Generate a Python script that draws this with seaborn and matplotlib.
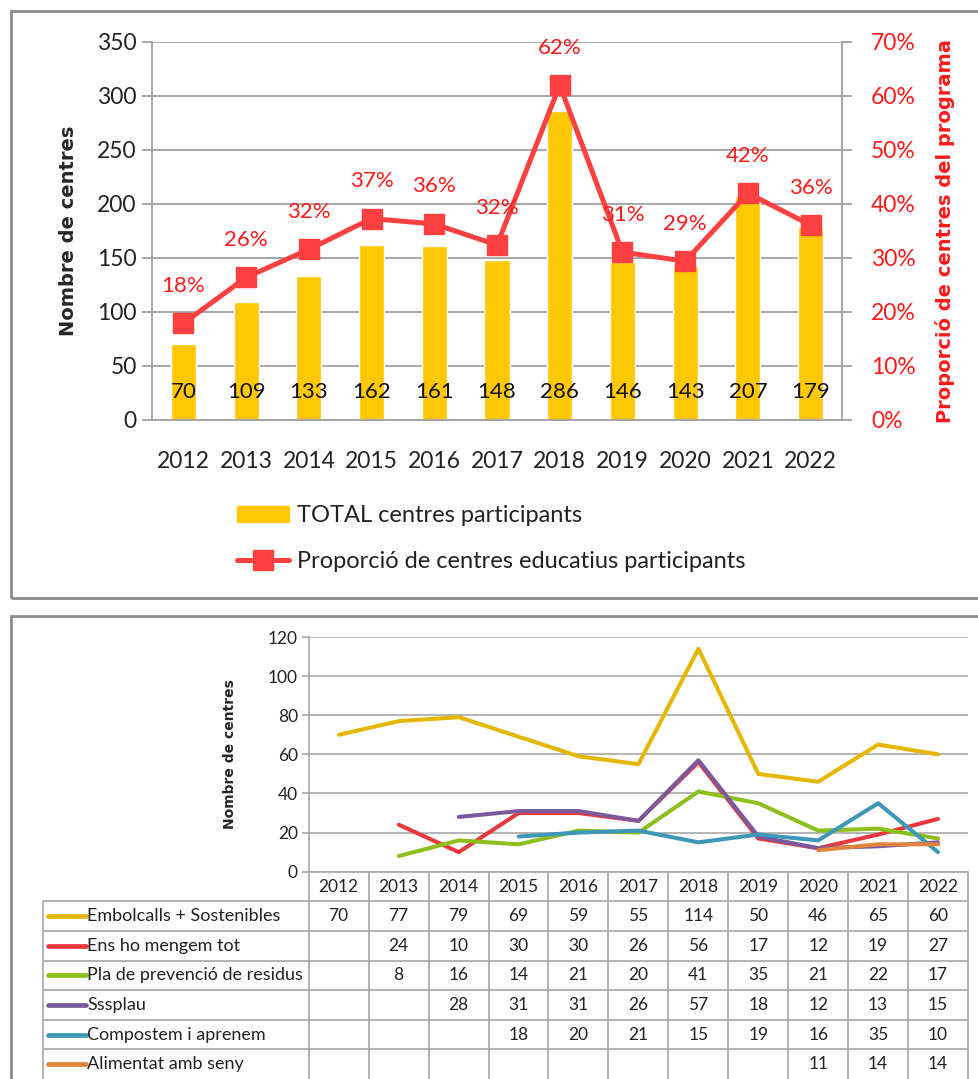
import numpy as np
import pandas as pd
import matplotlib
matplotlib.use("Agg")
import matplotlib.pyplot as plt
import seaborn as sns
from matplotlib.patches import Rectangle
from matplotlib.lines import Line2D

# ---- data ----
years = ["2012", "2013", "2014", "2015", "2016", "2017", "2018", "2019", "2020", "2021", "2022"]
total_centres = [70, 109, 133, 162, 161, 148, 286, 146, 143, 207, 179]
proportion_pct = [17.9, 26.4, 31.6, 37.3, 36.3, 32.4, 62.0, 31.1, 29.4, 42.0, 36.1]

programmes = ["Embolcalls + Sostenibles", "Ens ho mengem tot", "Pla de prevenció de residus",
              "Sssplau", "Compostem i aprenem", "Alimentat amb seny"]
embolcalls = [70, 77, 79, 69, 59, 55, 114, 50, 46, 65, 60]
ens_ho_mengem = [None, 24, 10, 30, 30, 26, 56, 17, 12, 19, 27]
pla_prevencio = [None, 8, 16, 14, 21, 20, 41, 35, 21, 22, 17]
sssplau = [None, None, 28, 31, 31, 26, 57, 18, 12, 13, 15]
compostem = [None, None, None, 18, 20, 21, 15, 19, 16, 35, 10]
alimentat = [None, None, None, None, None, None, None, None, 11, 14, 14]
prog_colors = ["#E5B700", "#E8383B", "#8CBE1C", "#7A5A9C", "#3C98B6", "#E4843C"]

sns.set_style("white")
plt.rcParams["font.family"] = ["Lato", "DejaVu Sans"]

W, H = 979, 1079
fig = plt.figure(figsize=(W / 100, H / 100), dpi=100)


def box(x0, y0, x1, y1):
    # rectangle given in pixel coords (top-left origin)
    return [x0 / W, 1 - y1 / H, (x1 - x0) / W, (y1 - y0) / H]


grid_c = "#A0A0A0"

# frames around the two panels
fig.patches.append(Rectangle((11 / W, 1 - 598 / H), 1.0, (598 - 11) / H,
                             transform=fig.transFigure, fill=False,
                             edgecolor="#8C8C8C", lw=2))
fig.patches.append(Rectangle((11 / W, -0.1), 1.0, 0.1 + (1079 - 616) / H,
                             transform=fig.transFigure, fill=False,
                             edgecolor="#8C8C8C", lw=2))

# ---- top chart: bars + proportion line ----
ax1 = fig.add_axes(box(152, 42, 842, 420))
x = np.arange(len(years))
df_top = pd.DataFrame({"year": years, "total": total_centres})
sns.barplot(data=df_top, x="year", y="total", color="#FFC800", width=0.4,
            saturation=1, ax=ax1)
ax1.set_xlim(-0.5, 10.5)
ax1.set_ylim(0, 350)
ax1.set_yticks(range(0, 351, 50))
ax1.yaxis.grid(True, color=grid_c, lw=1.3)
ax1.set_axisbelow(True)
for s in ["top", "right"]:
    ax1.spines[s].set_visible(False)
for s in ["left", "bottom"]:
    ax1.spines[s].set_color(grid_c)
    ax1.spines[s].set_linewidth(1.3)
ax1.set_xticks(np.arange(-0.5, 11, 1), minor=False)
ax1.set_xticklabels([])
ax1.set_xticks(x, minor=True)
ax1.set_xticklabels(years, minor=True, fontsize=16.5, color="#222222")
ax1.tick_params(axis="x", which="major", length=7, color=grid_c, width=1.3, direction="out")
ax1.tick_params(axis="x", which="minor", length=0, pad=22)
ax1.tick_params(axis="y", length=7, color=grid_c, width=1.3, labelsize=16.5,
                labelcolor="#222222", pad=4, left=True)
ax1.set_xlabel("")
ax1.set_ylabel("Nombre de centres", fontsize=14, fontweight="bold",
               family="DejaVu Sans", labelpad=14)
for xi, v in zip(x, total_centres):
    ax1.text(xi, 26, str(v), ha="center", va="center", fontsize=16, color="#111111")

ax2 = ax1.twinx()
ax2.plot(x, proportion_pct, color="#FF4040", lw=3.6, marker="s", markersize=14)
ax2.set_ylim(0, 70)
ax2.set_yticks(range(0, 71, 10))
ax2.set_yticklabels([f"{t}%" for t in range(0, 71, 10)])
ax2.tick_params(axis="y", length=7, color=grid_c, width=1.3, labelsize=16.5,
                labelcolor="#FF1A1A", pad=14, right=True)
for s in ["top", "left", "bottom"]:
    ax2.spines[s].set_visible(False)
ax2.spines["right"].set_color(grid_c)
ax2.spines["right"].set_linewidth(1.3)
ax2.set_ylabel("Proporció de centres del programa", fontsize=14, fontweight="bold",
               family="DejaVu Sans", color="#FF1A1A", labelpad=14)
for xi, p in zip(x, proportion_pct):
    ax2.annotate(f"{p:.0f}%", (xi, p), xytext=(0, 27), textcoords="offset points",
                 ha="center", va="center", fontsize=16, color="#FF1A1A")

handles = [Rectangle((0, 0), 1, 1, color="#FFC800"),
           Line2D([], [], color="#FF4040", lw=3.6, marker="s", markersize=14)]
fig.legend(handles, ["TOTAL centres participants",
                     "Proporció de centres educatius participants"],
           loc="upper left", bbox_to_anchor=(216 / W, 1 - 484 / H), frameon=False,
           fontsize=17, handlelength=2.2, handleheight=0.7, labelspacing=1.05,
           handletextpad=0.35, labelcolor="#222222")

# ---- bottom chart: programme lines ----
ax3 = fig.add_axes(box(309, 637, 968, 871.7))
series = [embolcalls, ens_ho_mengem, pla_prevencio, sssplau, compostem, alimentat]
long = pd.DataFrame({
    "x": np.tile(x, len(programmes)),
    "value": [v for s in series for v in s],
    "programme": np.repeat(programmes, len(years)),
}).dropna()
sns.lineplot(data=long, x="x", y="value", hue="programme", hue_order=programmes,
             palette=prog_colors, lw=2.9, legend=False, ax=ax3)
ax3.set_xlim(-0.5, 10.5)
ax3.set_ylim(0, 120)
ax3.set_yticks(range(0, 121, 20))
ax3.set_xticks([])
ax3.yaxis.grid(True, color=grid_c, lw=1.1)
ax3.set_axisbelow(True)
for s in ["top", "right", "bottom"]:
    ax3.spines[s].set_visible(False)
ax3.spines["left"].set_color(grid_c)
ax3.spines["left"].set_linewidth(1.1)
ax3.tick_params(axis="y", length=5, color=grid_c, width=1.1, labelsize=12.5,
                labelcolor="#222222", pad=3, left=True)
ax3.set_xlabel("")
ax3.set_ylabel("Nombre de centres", fontsize=10, fontweight="bold",
               family="DejaVu Sans", labelpad=22)

# ---- data table under the bottom chart ----
tab = fig.add_axes(box(43, 871.7, 968, 1079))
label_w = (309 - 43) / 60.0
left = -0.5 - label_w
tab.set_xlim(left, 10.5)
tab.set_ylim(6.0, -1.0)
tab.axis("off")
tcol = "#A6A6A6"
for k in range(12):
    tab.plot([k - 0.5, k - 0.5], [-1, 6.2], color=tcol, lw=1.2, clip_on=False)
tab.plot([left, left], [0, 6.2], color=tcol, lw=1.2, clip_on=False)
tab.plot([-0.5, 10.5], [-1, -1], color=tcol, lw=1.2, clip_on=False)
for r in range(6):
    tab.plot([left, 10.5], [r, r], color=tcol, lw=1.2)
for xi, yr in zip(x, years):
    tab.text(xi, -0.5, yr, ha="center", va="center", fontsize=12.5, color="#222222")
for r, (name, s, c) in enumerate(zip(programmes, series, prog_colors)):
    tab.plot([left + 0.08, left + 0.72], [r + 0.5, r + 0.5], color=c, lw=3.4,
             solid_capstyle="round")
    tab.text(left + 0.74, r + 0.5, name, ha="left", va="center", fontsize=13,
             color="#222222")
    for xi, v in zip(x, s):
        if v is not None:
            tab.text(xi, r + 0.5, str(v), ha="center", va="center", fontsize=12.5,
                     color="#222222")

fig.savefig("out.png", dpi=100)
